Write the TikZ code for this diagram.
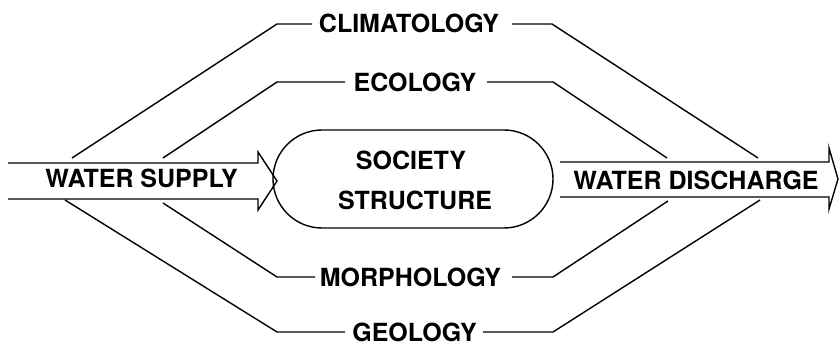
\documentclass[tikz,border=0pt]{standalone}
\usepackage{fontspec}
\setmainfont{TeX Gyre Heros}
\usetikzlibrary{shapes.misc}
\begin{document}
\begin{tikzpicture}[x=1pt,y=-1pt,
  ln/.style={line width=1.4pt,line join=miter},
  lbl/.style={inner sep=0pt,font=\fontsize{25}{30}\selectfont\bfseries,anchor=base},
  stadium/.style={draw,line width=1.4pt,rounded rectangle,minimum width=280pt,minimum height=98pt,inner sep=0pt}]
\useasboundingbox (0,0) rectangle (840,347);
% arrows
\draw[ln] (8,163) -- (258,163) -- (258,152) -- (277,181) -- (258,210) -- (258,199) -- (8,199);
\node[lbl] (supply) at (141.5,188) {WATER SUPPLY};
\draw[ln] (560,162) -- (829,162) -- (829,148) -- (838,179) -- (829,209) -- (829,197) -- (560,197);
\node[lbl] (discharge) at (696,190) {WATER DISCHARGE};
% society
\node[stadium] (soc) at (413,179) {};
\node[lbl] (society) at (411,170) {SOCIETY};
\node[lbl] (structure) at (415,210) {STRUCTURE};
% labels
\node[lbl] (clim) at (409,33) {CLIMATOLOGY};
\node[lbl] (eco) at (415,92) {ECOLOGY};
\node[lbl] (morph) at (410.5,287) {MORPHOLOGY};
\node[lbl,text depth=0pt] (geo) at (414.5,341) {GEOLOGY};
% coordinates
\coordinate (climA) at (72,158);  \coordinate (climB) at (277,24);  \coordinate (climC) at (312,24);
\coordinate (climD) at (512,24);  \coordinate (climE) at (552,24);  \coordinate (climF) at (758,158);
\coordinate (ecoA) at (163,158);  \coordinate (ecoB) at (277,82);   \coordinate (ecoC) at (345,82);
\coordinate (ecoD) at (487,82);   \coordinate (ecoE) at (553,82);   \coordinate (ecoF) at (667,158);
\coordinate (morA) at (163,203);  \coordinate (morB) at (277,277);  \coordinate (morC) at (315,277);
\coordinate (morD) at (512,277);  \coordinate (morE) at (553,277);  \coordinate (morF) at (668,201);
\coordinate (geoA) at (65,200);   \coordinate (geoB) at (277,332);  \coordinate (geoC) at (345,332);
\coordinate (geoD) at (483,332);  \coordinate (geoE) at (553,332);  \coordinate (geoF) at (760,200);
% connectors
\draw[ln] (climA) -- (climB) -- (climC);
\draw[ln] (climD) -- (climE) -- (climF);
\draw[ln] (ecoA) -- (ecoB) -- (ecoC);
\draw[ln] (ecoD) -- (ecoE) -- (ecoF);
\draw[ln] (morA) -- (morB) -- (morC);
\draw[ln] (morD) -- (morE) -- (morF);
\draw[ln] (geoA) -- (geoB) -- (geoC);
\draw[ln] (geoD) -- (geoE) -- (geoF);
\end{tikzpicture}
\end{document}
